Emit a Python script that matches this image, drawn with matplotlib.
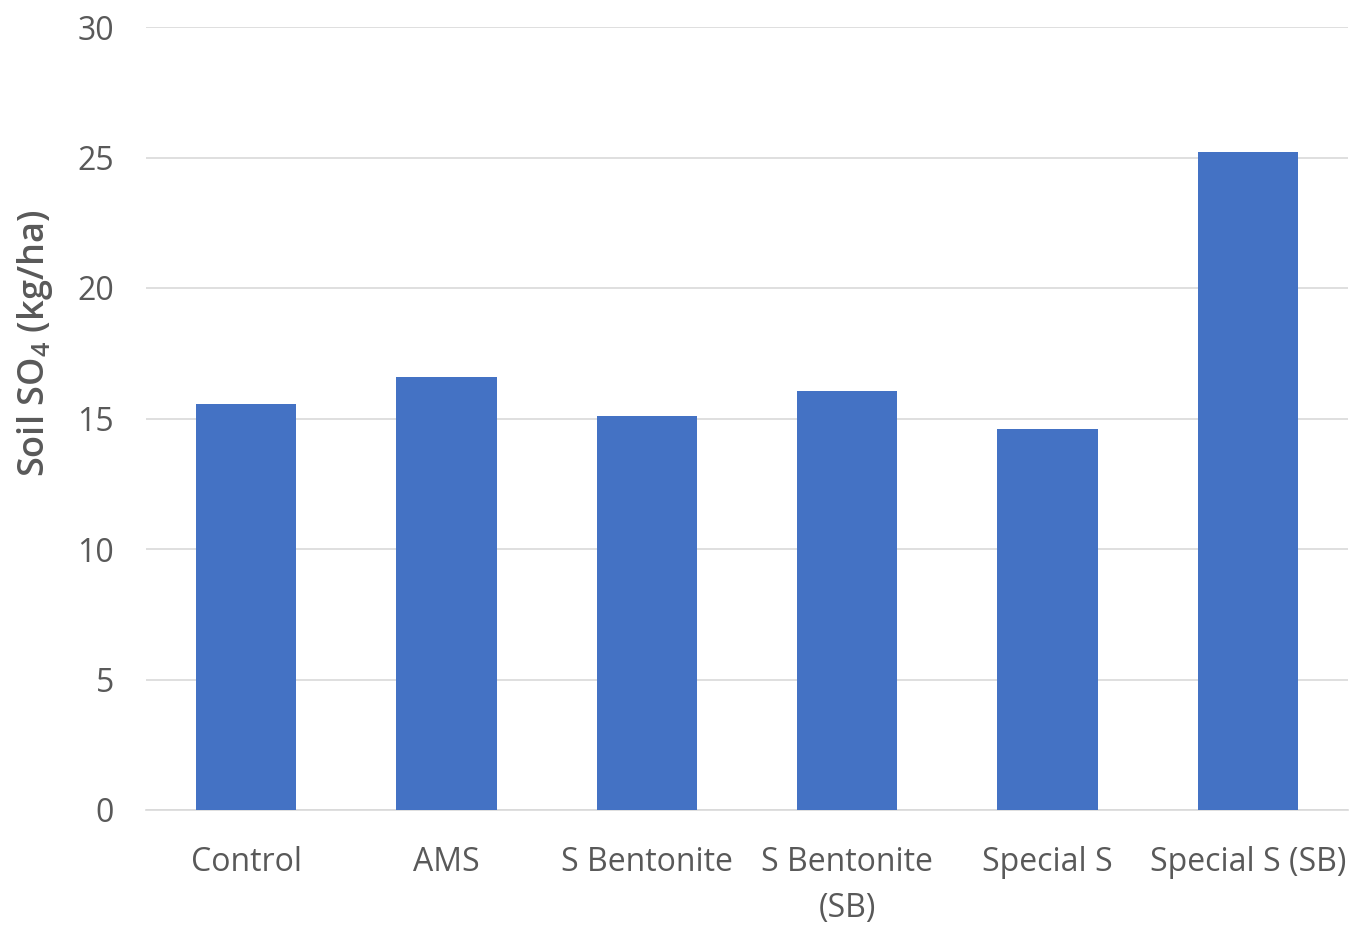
import matplotlib
matplotlib.use("Agg")
import matplotlib.pyplot as plt

categories = ["Control", "AMS", "S Bentonite", "S Bentonite\n(SB)", "Special S", "Special S (SB)"]
so4 = [15.55, 16.6, 15.1, 16.07, 14.58, 25.2]
yticks = [0, 5, 10, 15, 20, 25, 30]

plt.rcParams["mathtext.default"] = "regular"
tickfont = "Open Sans"

fig = plt.figure(figsize=(13.66, 9.4), dpi=100)
ax = fig.add_axes([146 / 1366, 1 - 810 / 940, 1202 / 1366, 783 / 940])

x = range(len(categories))
ax.bar(x, so4, width=0.5, color="#4472c4", zorder=3)
ax.set_xlim(-0.5, len(categories) - 0.5)
ax.set_ylim(0, 30)
ax.set_yticks(yticks)
ax.set_xticks(list(x))
ax.set_xticklabels(categories, fontsize=23, color="#595959", family=tickfont,
                   linespacing=1.5)
ax.set_yticklabels([str(t) for t in yticks], fontsize=23, color="#595959",
                   family=tickfont)
ax.tick_params(axis="x", length=0, pad=26)
ax.tick_params(axis="y", length=0, pad=23)
ax.grid(axis="y", color="#d9d9d9", linewidth=1.2, zorder=0)
for s in ["top", "right", "left"]:
    ax.spines[s].set_visible(False)
ax.spines["bottom"].set_color("#d9d9d9")
ax.spines["bottom"].set_linewidth(1.2)

ax.set_ylabel("Soil SO$_4$ (kg/ha)", fontsize=26, color="#595959", family="Open Sans",
              fontweight="semibold")
ax.yaxis.set_label_coords(-0.076, 0.596)

fig.savefig("out.png", dpi=100, facecolor="white")
